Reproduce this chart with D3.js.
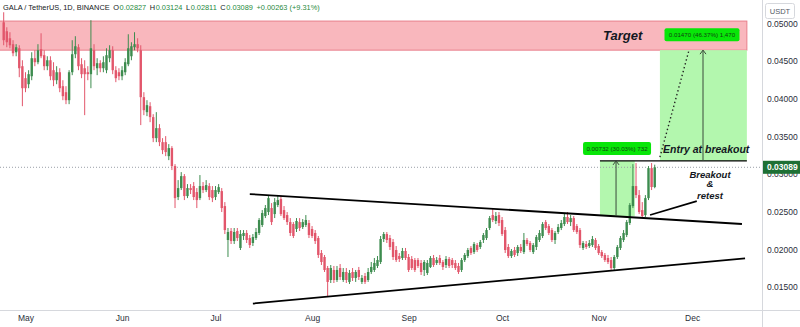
<!DOCTYPE html>
<html><head><meta charset="utf-8">
<script src="https://cdn.jsdelivr.net/npm/d3@7/dist/d3.min.js"></script>
<style>
body{margin:0;background:#fff;}
svg{display:block;font-family:"Liberation Sans",Arial,sans-serif;}
</style>
</head><body>
<svg id="chart" width="800" height="327"></svg>
<script>
// ---------------- DATA ----------------
const firstCandleDate = "2023-04-24T00:00:00Z";
const opens = [0.05014,0.04895,0.04802,0.04723,0.04616,0.04669,0.04431,0.04272,0.04192,0.04298,
0.04537,0.04484,0.04656,0.04577,0.04431,0.04510,0.04378,0.04245,0.04351,0.04166,
0.04086,0.03980,0.04351,0.04590,0.04683,0.04457,0.04404,0.04351,0.04325,0.04643,
0.04404,0.04471,0.04404,0.04378,0.04537,0.04643,0.04378,0.04351,0.04298,0.04351,
0.04457,0.04563,0.04683,0.04723,0.04643,0.04020,0.03821,0.03900,0.03755,0.03476,
0.03609,0.03423,0.03423,0.03237,0.03344,0.03105,0.02694,0.02813,0.02972,0.02707,
0.02813,0.02840,0.02760,0.02680,0.02840,0.02787,0.02840,0.02787,0.02694,0.02760,
0.02773,0.02574,0.02124,0.02243,0.02110,0.02243,0.02018,0.02177,0.02217,0.02150,
0.02084,0.02150,0.02217,0.02323,0.02442,0.02495,0.02548,0.02468,0.02588,0.02667,
0.02521,0.02455,0.02362,0.02336,0.02270,0.02362,0.02296,0.02323,0.02349,0.02270,
0.02217,0.02150,0.01951,0.01898,0.01752,0.01593,0.01726,0.01593,0.01752,0.01593,
0.01699,0.01567,0.01699,0.01620,0.01726,0.01567,0.01646,0.01593,0.01699,0.01726,
0.01779,0.01832,0.02137,0.02203,0.02150,0.02097,0.01991,0.01911,0.01885,0.01978,
0.01898,0.01872,0.01858,0.01858,0.01819,0.01726,0.01686,0.01766,0.01885,0.01819,
0.01885,0.01832,0.01792,0.01872,0.01858,0.01819,0.01779,0.01726,0.01858,0.01911,
0.02018,0.01964,0.02057,0.02031,0.02124,0.02150,0.02283,0.02455,0.02376,0.02455,
0.02389,0.02256,0.02031,0.01911,0.01991,0.01951,0.02031,0.01964,0.02124,0.02084,
0.01964,0.02031,0.02124,0.02177,0.02362,0.02309,0.02256,0.02124,0.02230,0.02283,
0.02336,0.02429,0.02362,0.02415,0.02309,0.02256,0.02018,0.02071,0.02044,0.02057,
0.02124,0.02044,0.01964,0.01925,0.01885,0.01858,0.01752,0.01898,0.02018,0.02124,
0.02190,0.02349,0.02574,0.02840,0.02720,0.02521,0.02455,0.02680,0.03078,0.02827];
const highs = [0.05147,0.04948,0.04882,0.04776,0.04723,0.04709,0.04510,0.04351,0.04378,0.04616,
0.04643,0.04723,0.04868,0.04643,0.04563,0.04563,0.04484,0.04431,0.04404,0.04245,
0.04166,0.04378,0.04776,0.04829,0.04723,0.04537,0.04510,0.04431,0.05041,0.04723,
0.04537,0.04510,0.04563,0.04669,0.04709,0.04696,0.04431,0.04404,0.04431,0.04537,
0.04855,0.04749,0.04882,0.04802,0.04709,0.04086,0.03980,0.03953,0.03794,0.03821,
0.03662,0.03476,0.03503,0.03397,0.03370,0.03131,0.02919,0.03025,0.02999,0.02866,
0.02866,0.02893,0.02813,0.02986,0.02893,0.02919,0.02879,0.02840,0.02840,0.02866,
0.02813,0.02627,0.02283,0.02283,0.02283,0.02283,0.02256,0.02256,0.02256,0.02190,
0.02203,0.02283,0.02415,0.02521,0.02588,0.02707,0.02614,0.02680,0.02720,0.02707,
0.02574,0.02495,0.02415,0.02362,0.02415,0.02415,0.02402,0.02455,0.02389,0.02309,
0.02256,0.02177,0.01991,0.01925,0.01779,0.01792,0.01779,0.01779,0.01805,0.01752,
0.01752,0.01726,0.01752,0.01726,0.01766,0.01659,0.01686,0.01752,0.01832,0.01885,
0.01911,0.02177,0.02230,0.02230,0.02190,0.02137,0.02044,0.01951,0.02018,0.02018,
0.01938,0.01911,0.01885,0.01885,0.01858,0.01858,0.01858,0.01911,0.01925,0.01898,
0.01925,0.01858,0.01911,0.01898,0.01885,0.01858,0.01819,0.01885,0.01951,0.02018,
0.02044,0.02097,0.02084,0.02124,0.02217,0.02283,0.02442,0.02535,0.02495,0.02495,
0.02429,0.02296,0.02071,0.02004,0.02031,0.02057,0.02071,0.02217,0.02150,0.02110,
0.02084,0.02190,0.02256,0.02362,0.02389,0.02336,0.02283,0.02243,0.02336,0.02389,
0.02482,0.02495,0.02455,0.02442,0.02336,0.02283,0.02110,0.02110,0.02124,0.02177,
0.02150,0.02071,0.01991,0.01951,0.01925,0.01898,0.01925,0.02057,0.02177,0.02256,
0.02389,0.02614,0.03131,0.03145,0.02787,0.02627,0.02720,0.03105,0.03145,0.03124];
const lows = [0.04709,0.04683,0.04669,0.04563,0.04563,0.04285,0.03900,0.04086,0.04139,0.04245,
0.04431,0.04457,0.04537,0.04378,0.04378,0.04245,0.04166,0.04192,0.04086,0.03980,
0.03927,0.03927,0.04312,0.04537,0.04378,0.04272,0.03781,0.04245,0.04139,0.04378,
0.04312,0.04351,0.04351,0.04338,0.04484,0.04325,0.04219,0.04245,0.04245,0.04312,
0.04431,0.04510,0.04643,0.04616,0.03649,0.03781,0.03768,0.03688,0.03423,0.03423,
0.03370,0.03264,0.03237,0.03184,0.03052,0.02548,0.02654,0.02787,0.02654,0.02680,
0.02734,0.02654,0.02548,0.02654,0.02747,0.02760,0.02654,0.02627,0.02654,0.02734,
0.02495,0.02203,0.01898,0.02071,0.02071,0.02110,0.01991,0.02124,0.02084,0.02018,
0.02044,0.02124,0.02190,0.02296,0.02415,0.02455,0.02323,0.02415,0.02561,0.02442,
0.02389,0.02323,0.02177,0.02150,0.02230,0.02243,0.02270,0.02296,0.02150,0.02150,
0.02071,0.01885,0.01792,0.01699,0.01370,0.01553,0.01553,0.01567,0.01593,0.01567,
0.01553,0.01540,0.01580,0.01567,0.01593,0.01540,0.01540,0.01567,0.01673,0.01699,
0.01752,0.01805,0.02097,0.02084,0.01991,0.01858,0.01832,0.01832,0.01858,0.01858,
0.01699,0.01726,0.01699,0.01752,0.01659,0.01646,0.01659,0.01752,0.01766,0.01792,
0.01792,0.01726,0.01752,0.01752,0.01752,0.01726,0.01673,0.01699,0.01832,0.01885,
0.01925,0.01938,0.01964,0.02004,0.02084,0.02124,0.02256,0.02362,0.02336,0.02309,
0.02177,0.01951,0.01885,0.01885,0.01898,0.01911,0.01951,0.01938,0.02044,0.01964,
0.01938,0.01991,0.02097,0.02150,0.02256,0.02190,0.02097,0.02071,0.02203,0.02256,
0.02309,0.02336,0.02309,0.02230,0.02203,0.02018,0.01991,0.02004,0.02018,0.02031,
0.01991,0.01925,0.01885,0.01832,0.01805,0.01726,0.01726,0.01872,0.01991,0.02097,
0.02163,0.02323,0.02548,0.02680,0.02468,0.02415,0.02429,0.02654,0.02787,0.02811];
const closes = [0.04776,0.04749,0.04709,0.04603,0.04683,0.04404,0.04139,0.04139,0.04325,0.04537,
0.04484,0.04643,0.04563,0.04431,0.04510,0.04298,0.04245,0.04351,0.04139,0.04033,
0.03980,0.04351,0.04590,0.04696,0.04431,0.04325,0.04325,0.04325,0.04669,0.04431,
0.04471,0.04404,0.04484,0.04577,0.04643,0.04378,0.04272,0.04298,0.04378,0.04484,
0.04669,0.04696,0.04723,0.04669,0.04020,0.03847,0.03914,0.03755,0.03476,0.03609,
0.03423,0.03317,0.03291,0.03344,0.03105,0.02680,0.02813,0.02972,0.02707,0.02813,
0.02787,0.02694,0.02654,0.02840,0.02787,0.02853,0.02694,0.02680,0.02787,0.02826,
0.02548,0.02256,0.02230,0.02110,0.02230,0.02150,0.02203,0.02217,0.02124,0.02057,
0.02163,0.02230,0.02389,0.02482,0.02548,0.02680,0.02362,0.02627,0.02654,0.02468,
0.02415,0.02362,0.02217,0.02177,0.02376,0.02283,0.02362,0.02389,0.02190,0.02177,
0.02110,0.01925,0.01832,0.01726,0.01567,0.01752,0.01593,0.01726,0.01633,0.01699,
0.01593,0.01686,0.01620,0.01699,0.01633,0.01620,0.01567,0.01699,0.01766,0.01819,
0.01858,0.02137,0.02203,0.02124,0.02031,0.01898,0.01858,0.01872,0.01978,0.01885,
0.01726,0.01752,0.01726,0.01779,0.01699,0.01832,0.01819,0.01885,0.01792,0.01858,
0.01819,0.01766,0.01872,0.01779,0.01792,0.01752,0.01699,0.01858,0.01925,0.01991,
0.01951,0.02071,0.01991,0.02097,0.02190,0.02256,0.02415,0.02389,0.02442,0.02349,
0.02203,0.01991,0.01911,0.01978,0.01925,0.02031,0.01978,0.02124,0.02071,0.01991,
0.02057,0.02163,0.02217,0.02336,0.02283,0.02217,0.02124,0.02217,0.02296,0.02349,
0.02429,0.02362,0.02415,0.02256,0.02230,0.02057,0.02084,0.02031,0.02084,0.02137,
0.02018,0.01951,0.01911,0.01858,0.01832,0.01752,0.01898,0.02031,0.02150,0.02217,
0.02362,0.02588,0.02840,0.02720,0.02495,0.02442,0.02680,0.03078,0.02827,0.03089];

const priceTicks = [0.015,0.02,0.025,0.03,0.035,0.04,0.045,0.05];
const monthTicks = ["2023-05-01","2023-06-01","2023-07-01","2023-08-01","2023-09-01","2023-10-01","2023-11-01","2023-12-01"];
const monthLabels = ["May","Jun","Jul","Aug","Sep","Oct","Nov","Dec"];

const lastPrice = 0.03089;
const headerTitle = "GALA / TetherUS, 1D, BINANCE";
const headerFields = [["O","0.02827"],["H","0.03124"],["L","0.02811"],["C","0.03089"]];
const headerChg = "+0.00263 (+9.31%)";

const targetZone = {from:"2023-04-01T00:00:00Z", to:"2023-12-18T14:00:00Z", low:0.04644, high:0.0503};
const measure1 = {from:"2023-11-01T10:00:00Z", to:"2023-11-12T14:00:00Z", low:0.02442, high:0.03174,
                  arrowAt:"2023-11-06T14:00:00Z", label:"0.00732 (30.03%) 732"};
const measure2 = {from:"2023-11-20T16:00:00Z", to:"2023-12-18T14:00:00Z", low:0.03174, high:0.04644,
                  arrowAt:"2023-12-04T12:00:00Z", label:"0.01470 (46.37%) 1,470"};
const entryLine = [["2023-11-01T10:00:00Z",0.03174],["2023-12-18T14:00:00Z",0.03174]];
const upperTrend = [["2023-07-12T00:00:00Z",0.02734],["2023-12-17T00:00:00Z",0.02336]];
const lowerTrend = [["2023-07-13T00:00:00Z",0.01280],["2023-12-18T00:00:00Z",0.01881]];
const projection = [["2023-11-20T16:00:00Z",0.03224],["2023-11-30T00:00:00Z",0.04643]];
const retestPointer = [["2023-11-17T12:00:00Z",0.02455],["2023-12-02T12:00:00Z",0.02640]];

// ---------------- CHART ----------------
const W = 800, H = 327, plotRight = 762, plotBottom = 310;
const svg = d3.select("#chart");
svg.append("rect").attr("width",W).attr("height",H).attr("fill","#ffffff");

const x = d3.scaleUtc().domain([new Date("2023-05-01T00:00:00Z"), new Date("2023-12-01T00:00:00Z")]).range([25.5, 692.1]);
const y = d3.scaleLinear().domain([0.015, 0.045]).range([287, 61]);

const start = new Date(firstCandleDate);
const candles = opens.map((o,i)=>({date:d3.utcDay.offset(start,i), o, h:highs[i], l:lows[i], c:closes[i]}));

svg.append("defs").append("clipPath").attr("id","plot")
  .append("rect").attr("x",0).attr("y",0).attr("width",plotRight).attr("height",plotBottom);
const plot = svg.append("g").attr("clip-path","url(#plot)");

const P = s => new Date(s);

// target zone
plot.append("rect")
  .attr("x", x(P(targetZone.from))).attr("width", x(P(targetZone.to)) - x(P(targetZone.from)))
  .attr("y", y(targetZone.high)).attr("height", y(targetZone.low) - y(targetZone.high))
  .attr("fill","#f9b7bd").attr("stroke","#e87e8b").attr("stroke-width",1);

// measure rects
[measure1, measure2].forEach(m=>{
  plot.append("rect")
    .attr("x", x(P(m.from))).attr("width", x(P(m.to)) - x(P(m.from)))
    .attr("y", y(m.high)).attr("height", y(m.low) - y(m.high))
    .attr("fill","#b3f7ae");
});

// last price dotted line
plot.append("line").attr("x1",0).attr("x2",plotRight).attr("y1",y(lastPrice)).attr("y2",y(lastPrice))
  .attr("stroke","#9a9ea8").attr("stroke-width",1).attr("stroke-dasharray","1,2");

// candles
const up = "#3d8c4f", down = "#e2566b";
const cg = plot.append("g");
cg.selectAll("line.wick").data(candles).join("line")
  .attr("x1",d=>x(d.date)).attr("x2",d=>x(d.date))
  .attr("y1",d=>y(d.h)).attr("y2",d=>y(d.l))
  .attr("stroke",d=>d.c>=d.o?up:down).attr("stroke-width",1);
cg.selectAll("rect.body").data(candles).join("rect")
  .attr("x",d=>x(d.date)-1.2).attr("width",2.4)
  .attr("y",d=>y(Math.max(d.o,d.c)))
  .attr("height",d=>Math.max(1, Math.abs(y(d.o)-y(d.c))))
  .attr("fill",d=>d.c>=d.o?up:down);

// lines
const line = d3.line().x(d=>x(P(d[0]))).y(d=>y(d[1]));
plot.append("path").attr("d",line(upperTrend)).attr("stroke","#000").attr("stroke-width",1.8).attr("fill","none");
plot.append("path").attr("d",line(lowerTrend)).attr("stroke","#000").attr("stroke-width",1.8).attr("fill","none");
plot.append("path").attr("d",line(entryLine)).attr("stroke","#000").attr("stroke-width",1.3).attr("fill","none");
plot.append("path").attr("d",line(retestPointer)).attr("stroke","#000").attr("stroke-width",1.6).attr("fill","none");
plot.append("path").attr("d",line(projection)).attr("stroke","#222").attr("stroke-width",1.4)
  .attr("stroke-dasharray","1.4,2.6").attr("fill","none");

// measure arrows + labels
[measure1, measure2].forEach(m=>{
  const ax = x(P(m.arrowAt));
  plot.append("line").attr("x1",ax).attr("x2",ax).attr("y1",y(m.low)).attr("y2",y(m.high))
    .attr("stroke","#3a4a3a").attr("stroke-width",1);
  plot.append("path").attr("d",`M${ax-3},${y(m.high)+4}L${ax},${y(m.high)}L${ax+3},${y(m.high)+4}`)
    .attr("stroke","#3a4a3a").attr("fill","none").attr("stroke-width",1);
});
function measureLabel(cx, cy, w, txt){
  plot.append("rect").attr("x",cx-w/2).attr("y",cy-6.5).attr("width",w).attr("height",13)
    .attr("rx",2).attr("fill","#08e608");
  plot.append("text").attr("x",cx).attr("y",cy+2.3).attr("text-anchor","middle")
    .attr("font-size",6.2).attr("fill","#114411").text(txt);
}
measureLabel(x(P(measure1.arrowAt))+1, y(0.03337), 68, measure1.label);
measureLabel(x(P(measure2.arrowAt))-1, y(0.04849), 75, measure2.label);

// annotation text
const ann = plot.append("g").attr("font-weight","bold").attr("font-style","italic").attr("fill","#131722");
ann.append("text").attr("x",603).attr("y",40).attr("font-size",13).text("Target");
ann.append("text").attr("x",663).attr("y",153).attr("font-size",10.5).text("Entry at breakout");
ann.append("text").attr("x",710).attr("y",177.5).attr("text-anchor","middle").attr("font-size",9.5).text("Breakout");
ann.append("text").attr("x",710).attr("y",187).attr("text-anchor","middle").attr("font-size",9.5).text("&");
ann.append("text").attr("x",710).attr("y",198.5).attr("text-anchor","middle").attr("font-size",9.5).text("retest");

// axes frame
svg.append("line").attr("x1",plotRight+0.5).attr("x2",plotRight+0.5).attr("y1",0).attr("y2",H).attr("stroke","#d6d8dd");
svg.append("line").attr("x1",0).attr("x2",W).attr("y1",plotBottom+0.5).attr("y2",plotBottom+0.5).attr("stroke","#d6d8dd");

// price axis
const yAxis = d3.axisRight(y).tickValues(priceTicks).tickFormat(d3.format(".5f")).tickSize(0).tickPadding(5);
const ya = svg.append("g").attr("transform",`translate(${plotRight},0)`).call(yAxis);
ya.select(".domain").remove();
ya.selectAll("text").attr("font-size",8.5).attr("fill","#2a2e39").attr("font-family","Liberation Sans, Arial, sans-serif");

// time axis
const xAxis = d3.axisBottom(x).tickValues(monthTicks.map(P)).tickFormat((d,i)=>monthLabels[i]).tickSize(0).tickPadding(5);
const xa = svg.append("g").attr("transform",`translate(0,${plotBottom})`).call(xAxis);
xa.select(".domain").remove();
xa.selectAll("text").attr("font-size",8.5).attr("fill","#2a2e39").attr("font-family","Liberation Sans, Arial, sans-serif");

// last price label
svg.append("rect").attr("x",plotRight+1).attr("y",y(lastPrice)-6.5).attr("width",37).attr("height",13).attr("fill","#1e7035");
svg.append("text").attr("x",plotRight+5).attr("y",y(lastPrice)+3).attr("font-size",8.5).attr("font-weight","bold")
  .attr("fill","#fff").text(d3.format(".5f")(lastPrice));

// currency box
svg.append("rect").attr("x",765.5).attr("y",3.5).attr("width",29).attr("height",15).attr("rx",2)
  .attr("fill","#fff").attr("stroke","#d6d8dd");
svg.append("text").attr("x",780).attr("y",14).attr("text-anchor","middle").attr("font-size",7.5).attr("fill","#555a66").text("USDT");

// header: separate text pieces laid out by measured width
const green = "#1f8a3d";
const hdr = svg.append("g").attr("font-size",7.4);
let cx = 3;
function put(txt, fill, gapAfter){
  const t = hdr.append("text").attr("x",cx).attr("y",10).attr("fill",fill).text(txt);
  cx += t.node().getComputedTextLength() + gapAfter;
}
put(headerTitle, "#131722", 3.5);
headerFields.forEach(([k,v])=>{ put(k, "#131722", 0.6); put(v, green, 3.5); });
put(headerChg, green, 0);
</script>
</body></html>
